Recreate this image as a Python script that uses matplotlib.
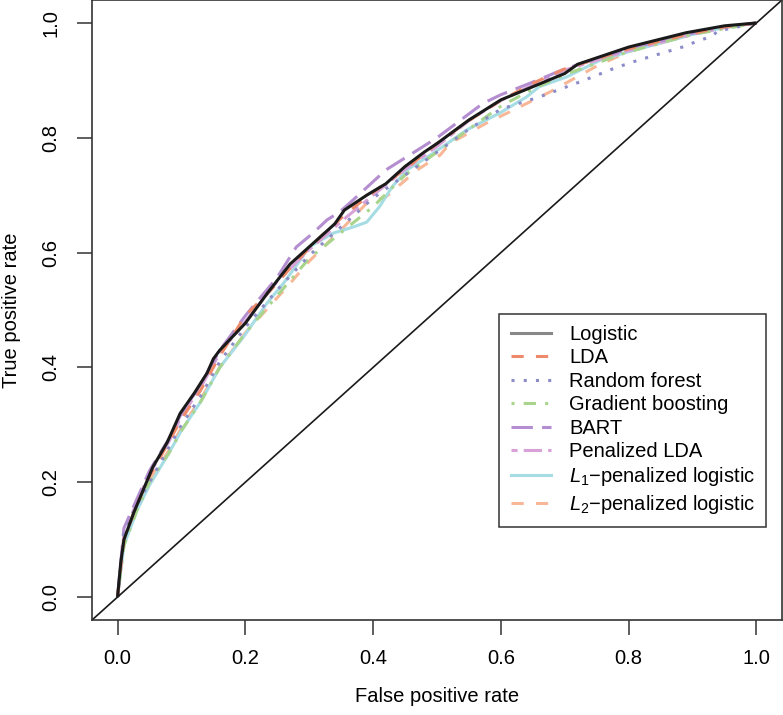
import matplotlib
matplotlib.use("Agg")
import matplotlib.pyplot as plt
from matplotlib.lines import Line2D

plt.rcParams['font.family'] = ['Liberation Sans', 'DejaVu Sans']
plt.rcParams['mathtext.fontset'] = 'custom'
plt.rcParams['mathtext.rm'] = 'Liberation Sans'
plt.rcParams['mathtext.it'] = 'Liberation Sans:italic'

# ROC curves (false positive rate, true positive rate)
logit_fpr = [0, 0.005, 0.01, 0.025, 0.04, 0.055, 0.078, 0.098, 0.12, 0.14, 0.15, 0.16, 0.2, 0.235,
             0.27, 0.30, 0.34, 0.355, 0.39, 0.42, 0.45, 0.48, 0.5, 0.55, 0.6, 0.65, 0.7, 0.72,
             0.8, 0.89, 0.95, 1.0]
logit_tpr = [0, 0.06, 0.10, 0.146, 0.186, 0.226, 0.27, 0.32, 0.355, 0.39, 0.415, 0.43, 0.477, 0.53,
             0.58, 0.61, 0.65, 0.674, 0.70, 0.72, 0.75, 0.775, 0.79, 0.831, 0.866, 0.889, 0.912, 0.928,
             0.958, 0.983, 0.995, 1.0]

lda_fpr = [0, 0.01, 0.03, 0.05, 0.08, 0.1, 0.13, 0.16, 0.2, 0.24, 0.28, 0.32, 0.36, 0.4, 0.45,
           0.5, 0.55, 0.6, 0.65, 0.7, 0.8, 0.9, 0.95, 1.0]
lda_tpr = [0, 0.10, 0.16, 0.21, 0.27, 0.31, 0.36, 0.42, 0.49, 0.535, 0.585, 0.63, 0.67, 0.705, 0.745,
           0.79, 0.83, 0.865, 0.895, 0.92, 0.955, 0.982, 0.993, 1.0]

rf_fpr = [0, 0.01, 0.03, 0.05, 0.08, 0.1, 0.13, 0.16, 0.2, 0.25, 0.3, 0.35, 0.4, 0.45, 0.5,
          0.55, 0.6, 0.66, 0.73, 0.775, 0.806, 0.884, 0.9, 0.93, 0.94, 0.97, 1.0]
rf_tpr = [0, 0.11, 0.16, 0.20, 0.26, 0.30, 0.35, 0.41, 0.47, 0.535, 0.595, 0.645, 0.695, 0.735, 0.775,
          0.815, 0.85, 0.871, 0.90, 0.92, 0.932, 0.958, 0.965, 0.977, 0.986, 0.993, 1.0]

gb_fpr = [0, 0.01, 0.03, 0.05, 0.08, 0.1, 0.13, 0.16, 0.2, 0.25, 0.3, 0.35, 0.4, 0.45, 0.5,
          0.55, 0.6, 0.65, 0.7, 0.8, 0.9, 0.95, 1.0]
gb_tpr = [0, 0.09, 0.15, 0.20, 0.25, 0.29, 0.34, 0.40, 0.46, 0.525, 0.59, 0.635, 0.68, 0.735, 0.775,
          0.815, 0.855, 0.885, 0.91, 0.95, 0.98, 0.99, 1.0]

bart_fpr = [0, 0.01, 0.03, 0.05, 0.08, 0.1, 0.13, 0.16, 0.2, 0.25, 0.28, 0.306, 0.328, 0.348,
            0.369, 0.42, 0.453, 0.5, 0.572, 0.6, 0.65, 0.7, 0.8, 0.9, 0.95, 1.0]
bart_tpr = [0, 0.12, 0.17, 0.22, 0.275, 0.32, 0.37, 0.43, 0.49, 0.557, 0.61, 0.634, 0.657, 0.671,
            0.692, 0.744, 0.767, 0.80, 0.86, 0.875, 0.897, 0.92, 0.955, 0.982, 0.993, 1.0]

plda_fpr = [0, 0.01, 0.03, 0.05, 0.08, 0.1, 0.13, 0.16, 0.2, 0.25, 0.3, 0.353, 0.4, 0.45, 0.5,
            0.55, 0.6, 0.65, 0.7, 0.8, 0.9, 0.95, 1.0]
plda_tpr = [0, 0.11, 0.165, 0.215, 0.27, 0.315, 0.365, 0.425, 0.48, 0.55, 0.605, 0.657, 0.70, 0.745, 0.785,
            0.83, 0.865, 0.892, 0.918, 0.952, 0.98, 0.992, 1.0]

l1_fpr = [0, 0.01, 0.03, 0.05, 0.08, 0.1, 0.13, 0.16, 0.197, 0.234, 0.26, 0.286, 0.3, 0.338, 0.37,
          0.39, 0.41, 0.43, 0.453, 0.494, 0.547, 0.598, 0.64, 0.66, 0.703, 0.755, 0.8, 0.9, 0.95, 1.0]
l1_tpr = [0, 0.09, 0.15, 0.195, 0.25, 0.29, 0.34, 0.40, 0.453, 0.512, 0.547, 0.587, 0.61, 0.634, 0.645,
          0.653, 0.68, 0.715, 0.744, 0.773, 0.814, 0.843, 0.871, 0.889, 0.906, 0.935, 0.95, 0.98, 0.992, 1.0]

l2_fpr = [0, 0.01, 0.03, 0.05, 0.08, 0.1, 0.13, 0.16, 0.2, 0.265, 0.3, 0.35, 0.39, 0.42, 0.469,
          0.505, 0.52, 0.578, 0.619, 0.677, 0.75, 0.8, 0.9, 0.95, 1.0]
l2_tpr = [0, 0.10, 0.15, 0.20, 0.255, 0.295, 0.345, 0.40, 0.46, 0.54, 0.585, 0.64, 0.686, 0.697, 0.744,
          0.77, 0.79, 0.826, 0.848, 0.88, 0.925, 0.95, 0.98, 0.992, 1.0]

labels = ['Logistic', 'LDA', 'Random forest', 'Gradient boosting', 'BART', 'Penalized LDA',
          '$L_1$\u2212penalized logistic', '$L_2$\u2212penalized logistic']
curves = [(logit_fpr, logit_tpr), (lda_fpr, lda_tpr), (rf_fpr, rf_tpr), (gb_fpr, gb_tpr),
          (bart_fpr, bart_tpr), (plda_fpr, plda_tpr), (l1_fpr, l1_tpr), (l2_fpr, l2_tpr)]
colors = ['#1a1a1a', '#ee8a6c', '#8c8cc8', '#a8d48c', '#b48ed0', '#d8a2d8', '#a6dce4', '#f8b796']
legend_colors = ['#888888'] + colors[1:]
dashes = [None, (4, 4), (1, 3), (1, 3, 4, 3), (7, 3), (2, 2, 6, 2), None, (4, 4)]

fs = 14.5

fig = plt.figure(figsize=(7.83, 7.15), dpi=100)
ax = fig.add_axes([92 / 783, 95 / 715, 690 / 783, 620 / 715])

# draw back to front so Logistic sits on top
order = [7, 6, 5, 4, 3, 2, 1, 0]
for i in order:
    fpr, tpr = curves[i]
    line, = ax.plot(fpr, tpr, color=colors[i], lw=2.2, solid_capstyle='butt')
    if dashes[i] is not None:
        line.set_dashes(dashes[i])

ax.axline((0, 0), slope=1, color='#1a1a1a', lw=1.2)

ax.set_xlim(-0.04, 1.04)
ax.set_ylim(-0.04, 1.04)
ticks = [0, 0.2, 0.4, 0.6, 0.8, 1.0]
ax.set_xticks(ticks)
ax.set_yticks(ticks)
ax.set_xticklabels(['%.1f' % t for t in ticks])
ax.set_yticklabels(['%.1f' % t for t in ticks], rotation=90, va='center')
ax.tick_params(length=11, width=1.1, labelsize=fs, pad=10, color='#333333')
ax.tick_params(axis='y', pad=12)
for s in ax.spines.values():
    s.set_linewidth(1.2)
    s.set_color('#333333')

fig.text(437 / 783, 1 - 697 / 715, 'False positive rate', ha='center', va='center', fontsize=fs)
fig.text(12 / 783, 1 - 310 / 715, 'True positive rate', ha='center', va='center',
         rotation=90, fontsize=fs)

handles = []
for i in range(8):
    h = Line2D([], [], color=legend_colors[i], lw=2.2)
    if dashes[i] is not None:
        h.set_dashes(dashes[i])
    handles.append(h)
leg = ax.legend(handles, labels, loc='lower right', bbox_to_anchor=(0.977, 0.15),
                borderaxespad=0, fontsize=fs, fancybox=False, framealpha=1,
                edgecolor='#333333', handlelength=2.0, handletextpad=0.9,
                labelspacing=0.22, borderpad=0.55)
leg.get_frame().set_linewidth(1.1)

fig.savefig('out.png', dpi=100)
